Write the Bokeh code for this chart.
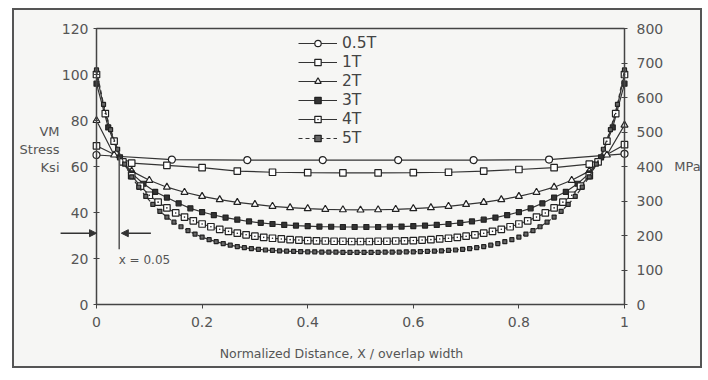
import numpy as np
from bokeh.plotting import figure
from bokeh.models import (Range1d, LinearAxis, Legend, LegendItem, Arrow, NormalHead,
                          Label, FixedTicker)
from bokeh.embed import file_html
from bokeh.resources import INLINE

# ---------------- data ----------------
series_names = ["0.5T", "1T", "2T", "3T", "4T", "5T"]

x_05 = np.linspace(0, 1, 8)
y_05 = [65.0, 63.0, 62.8, 62.8, 62.8, 62.8, 63.0, 65.5]

x_1 = np.linspace(0, 1, 16)
y_1 = [69.0, 61.5, 60.5, 59.5, 58.0, 57.5, 57.3, 57.2, 57.2, 57.3, 57.5, 58.0, 58.7, 59.5, 61.0, 69.5]

x_2 = np.linspace(0, 1, 31)
y_2 = [80, 65, 58, 54, 51, 48.8, 47, 45.6, 44.4, 43.5, 42.7, 42.1, 41.7, 41.4, 41.2, 41.1,
       41.2, 41.4, 41.7, 42.1, 42.7, 43.5, 44.4, 45.6, 47, 48.8, 51, 54, 58, 65, 78]

x_3 = np.linspace(0, 1, 46)
y_3 = [96, 77, 64, 57, 52.5, 49, 46.5, 44, 41.8, 40.2, 38.9, 37.8, 36.9, 36.1, 35.5, 35,
       34.6, 34.3, 34.1, 33.9, 33.8, 33.7, 33.7,
       33.7, 33.7, 33.8, 33.9, 34.1, 34.3, 34.6, 35, 35.5, 36.1, 36.9, 37.8, 38.9, 40.2,
       41.8, 44, 46.5, 49, 52.5, 57, 64, 77, 96]

x_4 = np.linspace(0, 1, 61)
y_4 = [100, 83, 71, 62, 56, 51.5, 47.5, 44.5, 42, 39.8, 38, 36.4, 35, 33.8, 32.7, 31.8,
       31, 30.3, 29.7, 29.2, 28.8, 28.5, 28.2, 28, 27.8, 27.7, 27.6, 27.5, 27.5, 27.4, 27.4,
       27.4, 27.5, 27.5, 27.6, 27.7, 27.8, 28, 28.2, 28.5, 28.8, 29.2, 29.7, 30.3, 31,
       31.8, 32.7, 33.8, 35, 36.4, 38, 39.8, 42, 44.5, 47.5, 51.5, 56, 62, 71, 83, 100]

x_5 = np.linspace(0, 1, 76)
y_5 = [102, 87, 76, 67.5, 61, 55.5, 51, 47, 43.5, 40.5, 38, 35.8, 33.8, 32.1, 30.6, 29.3,
       28.2, 27.3, 26.5, 25.8, 25.2, 24.7, 24.3, 24, 23.7, 23.5, 23.3, 23.2, 23.1, 23,
       22.9, 22.9, 22.8, 22.8, 22.8, 22.7, 22.7, 22.7,
       22.7, 22.7, 22.7, 22.8, 22.8, 22.8, 22.9, 22.9, 23, 23.1, 23.2, 23.3, 23.5, 23.7,
       24, 24.3, 24.7, 25.2, 25.8, 26.5, 27.3, 28.2, 29.3, 30.6, 32.1, 33.8, 35.8, 38,
       40.5, 43.5, 47, 51, 55.5, 61, 67.5, 76, 87, 102]

x_ticks = [0, 0.2, 0.4, 0.6, 0.8, 1]
ksi_ticks = [0, 20, 40, 60, 80, 100, 120]
mpa_ticks = [0, 100, 200, 300, 400, 500, 600, 700, 800]

x_title = "Normalized Distance, X / overlap width"
y_title = "VM\nStress\nKsi"
y2_title = "MPa"

# annotation (x = 0.05 marker)
mark_x = [0.043]
mark_y0 = [24]
mark_y1 = [64]
arrow_y = 31

# ---------------- layout (the frame fills the whole bordered box) ----------------
W, H = 690, 360
X0_PX, X_PX = 82, 528        # canvas px of x=0, px per unit x
Y0_PX, Y_PX = 294, 2.3       # canvas px of y=0, px per ksi
x_lo, x_hi = -X0_PX / X_PX, (W - X0_PX) / X_PX
y_lo, y_hi = -(H - Y0_PX) / Y_PX, Y0_PX / Y_PX
KSI_TO_MPA = 800 / 120

BG = "#f6f6f4"
INK = "#333333"
TXT = "#555555"
AX = "#444444"
FONT = "DejaVu Sans"

p = figure(width=W, height=H, x_range=Range1d(x_lo, x_hi), y_range=Range1d(y_lo, y_hi),
           output_backend="svg", toolbar_location=None,
           min_border=0, min_border_left=0, min_border_right=0,
           min_border_top=0, min_border_bottom=0)
p.styles = {"border": "2px solid #555555", "margin-left": "12px", "margin-top": "8px",
            "background-color": BG}
p.extra_y_ranges = {"mpa": Range1d(y_lo * KSI_TO_MPA, y_hi * KSI_TO_MPA)}
p.xgrid.visible = False
p.ygrid.visible = False
p.background_fill_color = BG
p.border_fill_color = BG
p.outline_line_color = None

styles = {
    "0.5T": dict(marker="circle", size=7, fill_color="white", dash="solid"),
    "1T": dict(marker="square", size=6.5, fill_color="white", dash="solid"),
    "2T": dict(marker="triangle", size=7, fill_color="white", dash="solid"),
    "3T": dict(marker="square", size=5, fill_color=INK, dash="solid"),
    "4T": dict(marker="square_dot", size=6.5, fill_color="white", dash="solid"),
    "5T": dict(marker="square", size=4, fill_color="#666666", dash="4 3"),
}
data = {"0.5T": (x_05, y_05), "1T": (x_1, y_1), "2T": (x_2, y_2),
        "3T": (x_3, y_3), "4T": (x_4, y_4), "5T": (x_5, y_5)}

items = []
for name in series_names:
    xs, ys = data[name]
    st = styles[name]
    lr = p.line(list(xs), ys, line_color=INK, line_width=1.2, line_dash=st["dash"])
    sr = p.scatter(list(xs), ys, marker=st["marker"], size=st["size"],
                   fill_color=st["fill_color"], line_color="#222222", line_width=1.2)
    items.append(LegendItem(label=name, renderers=[lr, sr]))

legend = Legend(items=items, location=(284, 223))
legend.background_fill_color = BG
legend.background_fill_alpha = 1
legend.border_line_color = None
legend.glyph_width = 39
legend.glyph_height = 16
legend.label_height = 16
legend.spacing = 1
legend.padding = 10
legend.label_standoff = 5
legend.label_text_font = FONT
legend.label_text_font_size = "15.5px"
legend.label_text_color = "#444444"
p.add_layout(legend)

# axes (all placed at fixed data locations inside the frame)
def style_axis(ax):
    ax.axis_line_color = AX
    ax.axis_line_width = 1.5
    ax.major_tick_line_color = AX
    ax.minor_tick_line_color = None
    ax.major_label_text_font = FONT
    ax.major_label_text_font_size = "14px"
    ax.major_label_text_color = TXT
    ax.axis_label_text_font = FONT
    ax.axis_label_text_font_style = "normal"
    ax.axis_label_text_color = TXT

def title_only(ax):
    ax.axis_line_color = None
    ax.major_tick_line_color = None
    ax.minor_tick_line_color = None
    ax.major_tick_in = 0
    ax.major_tick_out = 0
    ax.major_label_standoff = 0
    ax.major_label_text_font_size = "0px"
    ax.axis_label_text_font = FONT
    ax.axis_label_text_font_style = "normal"
    ax.axis_label_text_color = TXT

xa = p.xaxis[0]
style_axis(xa)
xa.fixed_location = 0
xa.bounds = (0, 1)
xa.ticker = FixedTicker(ticks=x_ticks)
xa.major_label_overrides = {0: "0", 1: "1"}
xa.major_tick_in = 0
xa.major_tick_out = 4
xa.major_label_standoff = 8

# x-axis title (centred where the original shows it)
xt = LinearAxis(fixed_location=0, bounds=(-0.072, 1), ticker=FixedTicker(ticks=[]))
title_only(xt)
xt.axis_label = x_title
xt.axis_label_text_font_size = "12.5px"
xt.axis_label_standoff = 41
p.add_layout(xt, "below")

ta = LinearAxis(fixed_location=120, bounds=(0, 1), ticker=FixedTicker(ticks=[]))
ta.axis_line_color = AX
ta.axis_line_width = 1.5
ta.major_tick_line_color = None
ta.minor_tick_line_color = None
ta.major_label_text_font_size = "0px"
p.add_layout(ta, "above")

ya = p.yaxis[0]
style_axis(ya)
ya.fixed_location = 0
ya.bounds = (0, 120)
ya.ticker = FixedTicker(ticks=ksi_ticks)
ya.major_tick_in = 3
ya.major_tick_out = 3
ya.major_label_standoff = 5

# left title (stacked words, centred slightly above the middle, as in the original)
yt = LinearAxis(fixed_location=0, bounds=(14.8, 120), ticker=FixedTicker(ticks=[]))
title_only(yt)
yt.axis_label = y_title
yt.axis_label_orientation = "horizontal"
yt.axis_label_text_font_size = "13px"
yt.axis_label_text_align = "center"
if "axis_label_align" in yt.properties():
    yt.axis_label_align = "center"
yt.axis_label_standoff = 37
p.add_layout(yt, "left")

ra = LinearAxis(y_range_name="mpa", fixed_location=1, bounds=(0, 800))
style_axis(ra)
ra.ticker = FixedTicker(ticks=mpa_ticks)
ra.major_tick_in = 3
ra.major_tick_out = 3
ra.major_label_standoff = 9
ra.axis_label = y2_title
ra.axis_label_orientation = "horizontal"
ra.axis_label_text_font_size = "13px"
ra.axis_label_standoff = 8
p.add_layout(ra, "right")

# x = 0.05 annotation
p.segment(x0=mark_x, y0=mark_y0, x1=mark_x, y1=mark_y1, line_color="#555555", line_width=1.5)
p.add_layout(Arrow(end=NormalHead(size=7, fill_color=INK, line_color=INK),
                   x_start=-0.068, y_start=arrow_y, x_end=0, y_end=arrow_y,
                   line_color=INK, line_width=1.5))
p.add_layout(Arrow(end=NormalHead(size=7, fill_color=INK, line_color=INK),
                   x_start=0.103, y_start=arrow_y, x_end=0.047, y_end=arrow_y,
                   line_color=INK, line_width=1.5))
p.add_layout(Label(x=0.042, y=19.5, text="x = 0.05", text_font=FONT, text_font_size="12px",
                   text_color=TXT, text_baseline="middle"))

open("out.html", "w").write(file_html(p, INLINE))
